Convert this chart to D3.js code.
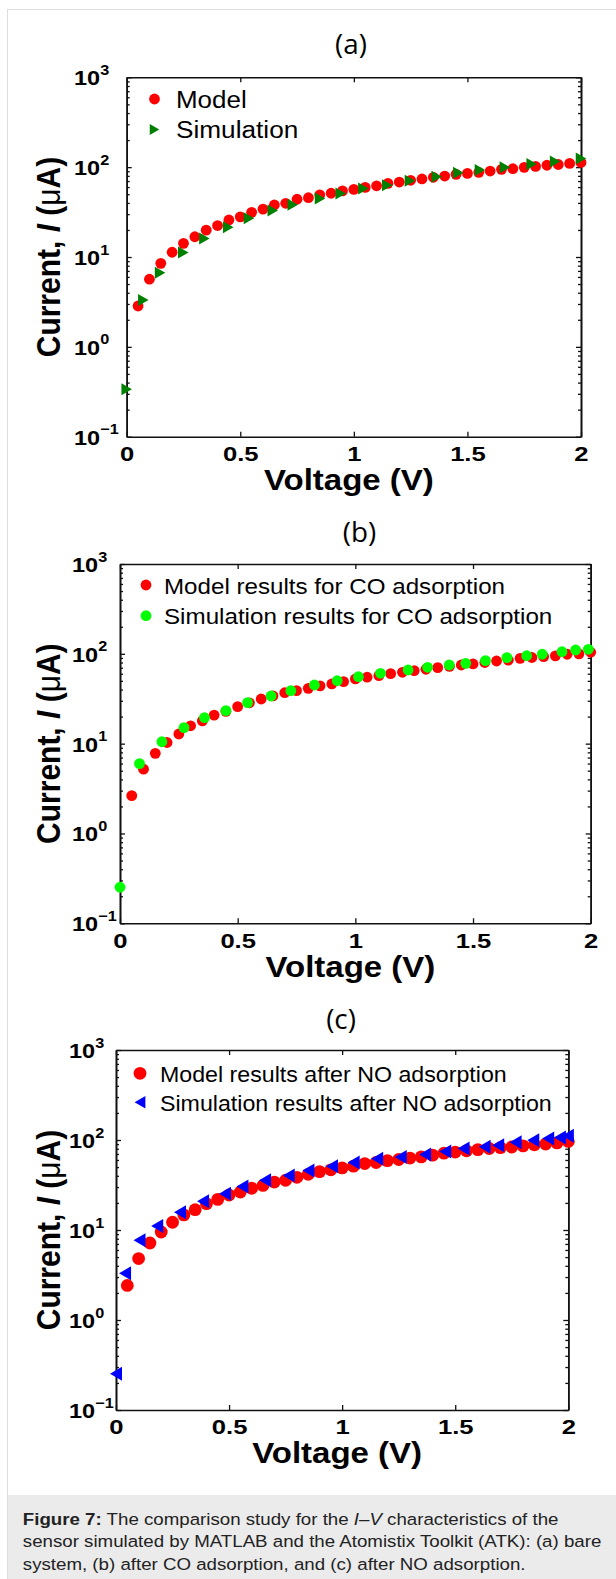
<!DOCTYPE html>
<html><head><meta charset="utf-8">
<script src="https://cdnjs.cloudflare.com/ajax/libs/d3/7.8.5/d3.min.js"></script>
<style>
html,body{margin:0;padding:0;background:#fff;}
svg{display:block;}
</style></head><body>
<svg id="fig" width="616" height="1579"></svg>
<script>
// ---------- data ----------
const voltageTicks = [0, 0.5, 1, 1.5, 2];
const voltageTickLabels = ["0", "0.5", "1", "1.5", "2"];
const currentDecades = [0.1, 1, 10, 100, 1000];
const currentExponents = ["\u22121", "0", "1", "2", "3"];
const panelTitles = ["(a)", "(b)", "(c)"];
const legendModel = ["Model", "Model results for CO adsorption", "Model results after NO adsorption"];
const legendSim = ["Simulation", "Simulation results for CO adsorption", "Simulation results after NO adsorption"];

const modelVoltage = [0.05,0.10,0.15,0.20,0.25,0.30,0.35,0.40,0.45,0.50,0.55,0.60,0.65,0.70,0.75,0.80,0.85,0.90,0.95,1.00,
  1.05,1.10,1.15,1.20,1.25,1.30,1.35,1.40,1.45,1.50,1.55,1.60,1.65,1.70,1.75,1.80,1.85,1.90,1.95,2.00];

// (a) bare system
const aModelCurrent = [2.85,5.66,8.5,11.3,14.2,16.8,19.9,22.4,25.8,28.0,31.4,34.1,37.9,39.6,43.9,45.7,49.2,51.2,54.5,56.5,
  59.5,62.0,66.0,68.3,71.4,73.9,77.1,79.6,83.2,85.2,87.5,90.5,94.5,96.1,99.5,102,105,107,110,113];
const aSimVoltage = [0,0.073,0.147,0.249,0.342,0.447,0.538,0.643,0.731,0.851,0.942,1.042,1.147,1.247,1.365,1.460,1.555,1.665,1.783,1.886,2.0];
const aSimCurrent = [0.337,3.32,6.7,11.2,16.1,21.5,27.0,33.0,38.1,44.9,51,58,63,70.5,78.2,86.8,92.9,99.6,108.3,115.5,125];

// (b) after CO adsorption
const bModelCurrent = [2.64,5.2,7.8,10.3,12.8,15.8,17.9,20.8,22.9,25.8,28.5,31.4,34.0,36.9,38.9,41.3,43.9,46.2,49.0,52.5,
  54.9,57.2,60.1,62.3,64.9,67.3,70.2,72.5,75.1,77.1,80.0,83.2,85.0,89.1,91.0,93.0,95.0,98.9,100,104];
const bSimVoltage = [0,0.083,0.178,0.272,0.359,0.450,0.542,0.642,0.726,0.826,0.923,1.013,1.107,1.224,1.307,1.399,1.469,1.553,1.644,1.728,1.794,1.878,1.936,1.99];
const bSimCurrent = [0.252,6.0,10.5,15.1,19.5,23.3,28.6,33.9,38.9,45.0,50.2,55.6,60.7,66.1,70.8,75.1,78.4,83.9,90.6,95.3,98.9,105.6,110.3,112.3];

// (c) after NO adsorption
const cModelCurrent = [2.42,4.82,7.17,9.5,12.2,14.7,16.8,19.6,21.9,24.5,26.4,29.1,31.3,34.1,35.7,38.5,41.6,44.5,46.6,48.9,
  51.2,54.7,56.2,59.0,60.7,63.0,64.9,67.9,71.3,73.4,76.0,78.2,80.5,82.1,83.6,86.0,88.4,90.3,92.9,96.4];
const cSimVoltage = [0,0.04,0.104,0.182,0.283,0.385,0.482,0.559,0.659,0.764,0.851,0.955,1.051,1.155,1.259,1.367,1.456,1.537,1.63,1.69,1.767,1.845,1.911,1.963,1.998];
const cSimCurrent = [0.253,3.3,7.7,11.1,15.7,20.8,25.2,30.4,35.7,40.4,45.7,51.2,56.2,61.8,64.9,69.2,74.6,80.5,84.3,87.7,94.6,99.3,104,106.9,111.2];

const captionLines = [
  [["Figure 7:", "bold"], [" The comparison study for the ", ""], ["I\u2013V", "italic"], [" characteristics of the", ""]],
  [["sensor simulated by MATLAB and the Atomistix Toolkit (ATK): (a) bare", ""]],
  [["system, (b) after CO adsorption, and (c) after NO adsorption.", ""]]
];

// ---------- layout / style ----------
const SX = 1.1;           // horizontal stretch of the reference image
const TICKSX = 1.22;
const FONT = "'Liberation Sans', Arial, Helvetica, sans-serif";
const panels = [
  {left:126.7, right:581, top:77.3, bottom:436.7, titleX:351, titleY:54, tickLabelX:74,
   legX:154.5, legY:[99,129.5], legTextX:176, legFont:23.5, legW:[70.7,122.3], r:5.4, tri:[10.5,12], triDir:1,
   modelI:aModelCurrent, simV:aSimVoltage, simI:aSimCurrent, simColor:"#008000", simShape:"tri"},
  {left:120, right:590.7, top:564, bottom:923.3, titleX:359.5, titleY:542, tickLabelX:72,
   legX:146, legY:[585,615.7], legTextX:164, legFont:22, legW:[341,388.3], r:5.4,
   modelI:bModelCurrent, simV:bSimVoltage, simI:bSimCurrent, simColor:"#00ff00", simShape:"circle"},
  {left:116, right:568.3, top:1050, bottom:1410, titleX:341, titleY:1029, tickLabelX:69,
   legX:140, legY:[1073.3,1102.3], legTextX:160, legFont:22, legW:[346.7,391.7], r:6.4, tri:[12,14], triDir:-1,
   modelI:cModelCurrent, simV:cSimVoltage, simI:cSimCurrent, simColor:"#0000ff", simShape:"tri"}
];

const svg = d3.select("#fig");
// frame + caption background
svg.append("rect").attr("x",7.5).attr("y",9.5).attr("width",640).attr("height",1600)
  .attr("fill","#fff").attr("stroke","#dedede").attr("stroke-width",1);
svg.append("rect").attr("x",8).attr("y",1495).attr("width",620).attr("height",90).attr("fill","#ebebeb");

function hText(g, x, y, s, opts){
  const t = g.append("text")
    .attr("transform", `translate(${x},${y}) scale(${opts.sx||SX},1)`)
    .attr("text-anchor", opts.anchor||"start")
    .attr("font-family", opts.family||FONT)
    .attr("font-size", opts.size)
    .attr("font-weight", opts.weight||"normal")
    .attr("fill", opts.fill||"#000");
  if (s!=null) t.text(s);
  return t;
}

function triPath(w,h,dir){
  // dir 1 = pointing right, -1 = pointing left
  return `M${-dir*w/2},${-h/2}L${dir*w/2},0L${-dir*w/2},${h/2}Z`;
}

panels.forEach((p, i) => {
  const g = svg.append("g");
  const x = d3.scaleLinear().domain([0,2]).range([p.left,p.right]);
  const y = d3.scaleLog().domain([0.1,1000]).range([p.bottom,p.top]);
  const minor = y.ticks().filter(v => !currentDecades.some(d => Math.abs(d-v)<1e-9));

  // title
  hText(g, p.titleX, p.titleY, panelTitles[i], {size:26.5, anchor:"middle", family:"'Open Sans', 'Noto Sans', sans-serif", sx:1.05});

  // axes (ticks pointing inward)
  const ax = g.append("g").attr("class","axes");
  ax.append("g").attr("transform",`translate(0,${p.bottom})`)
    .call(d3.axisBottom(x).tickValues(voltageTicks).tickSize(-5).tickSizeOuter(0).tickFormat((d,k)=>voltageTickLabels[k]))
    .call(s=>s.selectAll("text").attr("y",24.5).attr("dy",null)
      .attr("transform",`scale(${TICKSX},1)`)
      .attr("font-family",FONT).attr("font-size",21).attr("font-weight","bold").attr("fill","#000"));
  ax.append("g").attr("transform",`translate(0,${p.top})`)
    .call(d3.axisTop(x).tickValues(voltageTicks).tickSize(-5).tickSizeOuter(0).tickFormat(""));
  ax.append("g").attr("transform",`translate(${p.left},0)`)
    .call(d3.axisLeft(y).tickValues(minor).tickSize(-3).tickSizeOuter(0).tickFormat(""));
  ax.append("g").attr("transform",`translate(${p.left},0)`)
    .call(d3.axisLeft(y).tickValues(currentDecades).tickSize(-5).tickSizeOuter(0).tickFormat(""));
  ax.append("g").attr("transform",`translate(${p.right},0)`)
    .call(d3.axisRight(y).tickValues(minor).tickSize(-3).tickSizeOuter(0).tickFormat(""));
  ax.append("g").attr("transform",`translate(${p.right},0)`)
    .call(d3.axisRight(y).tickValues(currentDecades).tickSize(-5).tickSizeOuter(0).tickFormat(""));
  ax.selectAll("path.domain").attr("stroke","#111").attr("stroke-width",1.6);
  ax.selectAll(".tick line").attr("stroke","#111").attr("stroke-width",1.3);

  // y tick labels 10^n
  currentDecades.forEach((d,k) => {
    const t = hText(g, p.tickLabelX, y(d)+8, null, {size:21, weight:"bold", sx:1.12});
    t.append("tspan").text("10");
    t.append("tspan").attr("font-size",14.5).attr("dy",-10.5).text(currentExponents[k]);
  });

  // axis labels
  hText(g, (p.left+p.right)/2-5, p.bottom+53.3, "Voltage (V)", {size:30, weight:"bold", anchor:"middle"});
  const yl = g.append("text")
    .attr("transform",`translate(60,${(p.top+p.bottom)/2}) rotate(-90) scale(1,${SX})`)
    .attr("text-anchor","middle").attr("font-family",FONT).attr("font-size",30).attr("font-weight","bold");
  yl.append("tspan").text("Current, ");
  yl.append("tspan").attr("font-style","italic").text("I");
  yl.append("tspan").text(" (");
  yl.append("tspan").attr("font-weight","normal").text("\u03bc");
  yl.append("tspan").text("A)");

  // data: model first, simulation drawn on top
  const modelData = modelVoltage.map((v,k)=>({v, c:p.modelI[k]}));
  const simData = p.simV.map((v,k)=>({v, c:p.simI[k]}));
  g.append("g").selectAll("circle").data(modelData).join("circle")
    .attr("cx",d=>x(d.v)).attr("cy",d=>y(d.c)).attr("r",p.r).attr("fill","#ff0000");
  const sg = g.append("g");
  if (p.simShape==="circle") {
    sg.selectAll("circle").data(simData).join("circle")
      .attr("cx",d=>x(d.v)).attr("cy",d=>y(d.c)).attr("r",p.r).attr("fill",p.simColor);
  } else {
    sg.selectAll("path").data(simData).join("path")
      .attr("transform",d=>`translate(${x(d.v)},${y(d.c)})`)
      .attr("d",triPath(p.tri[0],p.tri[1],p.triDir)).attr("fill",p.simColor);
  }

  // legend
  const lg = g.append("g");
  lg.append("circle").attr("cx",p.legX).attr("cy",p.legY[0]).attr("r",p.r).attr("fill","#ff0000");
  if (p.simShape==="circle") {
    lg.append("circle").attr("cx",p.legX).attr("cy",p.legY[1]).attr("r",p.r).attr("fill",p.simColor);
  } else {
    lg.append("path").attr("transform",`translate(${p.legX},${p.legY[1]})`)
      .attr("d",triPath(p.tri[0]*0.9,p.tri[1]*0.9,p.triDir)).attr("fill",p.simColor);
  }
  [legendModel[i], legendSim[i]].forEach((s,k) => {
    lg.append("text").attr("x",p.legTextX).attr("y",p.legY[k]+8.5)
      .attr("font-family",FONT).attr("font-size",p.legFont).attr("fill","#000")
      .attr("textLength",p.legW[k]).attr("lengthAdjust","spacingAndGlyphs").text(s);
  });
});

// caption
const capY = [1525, 1547, 1569.5];
captionLines.forEach((line,k) => {
  const t = hText(svg, 22.8, capY[k], null, {size:17, fill:"#222"});
  line.forEach(([s,st]) => {
    const ts = t.append("tspan").text(s);
    if (st==="bold") ts.attr("font-weight","bold");
    if (st==="italic") ts.attr("font-style","italic");
  });
});
</script>
</body></html>
